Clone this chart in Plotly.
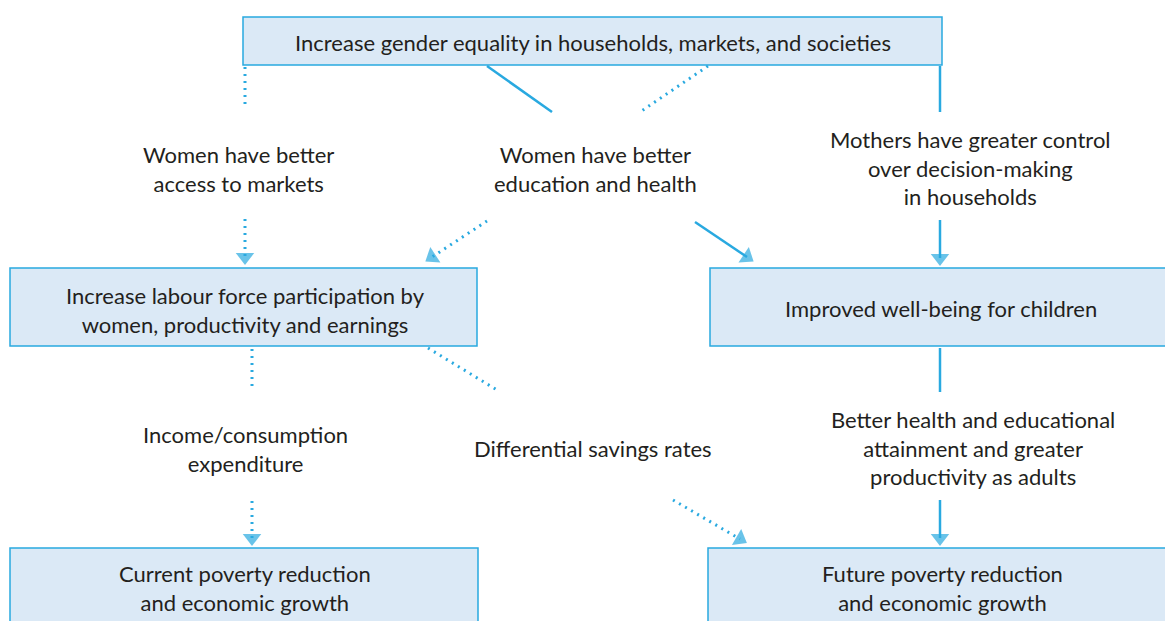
import plotly.graph_objects as go

W, H = 1165, 621

# ---- content ----
box_ids = ["top", "labour", "children", "current", "future"]
box_texts = [
    "Increase gender equality in households, markets, and societies",
    "Increase labour force participation by<br>women, productivity and earnings",
    "Improved well-being for children",
    "Current poverty reduction<br>and economic growth",
    "Future poverty reduction<br>and economic growth",
]
label_texts = [
    "Women have better<br>access to markets",
    "Women have better<br>education and health",
    "Mothers have greater control<br>over decision-making<br>in households",
    "Income/consumption<br>expenditure",
    "Differential savings rates",
    "Better health and educational<br>attainment and greater<br>productivity as adults",
]
# connector styles: 'dot' or 'solid'
seg_styles = ["dot", "solid", "dot", "solid", "dot", "dot", "solid"]
arrow_styles = ["dot", "dot", "solid", "solid", "dot", "dot", "solid"]

# ---- layout (pixel positions) ----
box_pos = [  # x0, y0, x1, y1
    (243, 17, 942, 65),
    (10, 268, 477, 346),
    (710, 268, 1166, 346),
    (10, 548, 478, 640),
    (708, 548, 1166, 640),
]
box_text_pos = [(593, 42), (245, 310), (941, 308), (245, 588), (942, 588)]
label_pos = [(238, 169), (595, 169), (970, 168), (245, 449), (593, 448), (973, 448)]
seg_pos = [  # plain connector segments (no head)
    ((245, 67), (245, 108)),
    ((487, 66), (552, 112)),
    ((708, 66), (640, 112)),
    ((940, 66), (940, 112)),
    ((252, 349), (252, 390)),
    ((428, 348), (497, 390)),
    ((940, 348), (940, 392)),
]
arrow_pos = [  # start, head centre
    ((245, 219), (245, 257)),
    ((487, 221), (432, 257)),
    ((695, 222), (747, 257)),
    ((940, 220), (940, 258)),
    ((252, 501), (252, 538)),
    ((673, 500), (740, 539)),
    ((940, 500), (940, 538)),
]

BLUE = "#29a9e0"
FILL = "#dbe9f6"
TXT = "#231f20"
FONT = "Lato"
FS = 22
DOT = "2px,5px"

fig = go.Figure()

shapes = []
for (x0, y0, x1, y1) in box_pos:
    shapes.append(dict(type="rect", x0=x0, y0=y0, x1=x1, y1=y1,
                       line=dict(color=BLUE, width=1.5), fillcolor=FILL, layer="below"))

for (p0, p1), st in zip(seg_pos, seg_styles):
    fig.add_trace(go.Scatter(x=[p0[0], p1[0]], y=[p0[1], p1[1]], mode="lines",
                             line=dict(color=BLUE, width=3 if st == "dot" else 2.5,
                                       dash=DOT if st == "dot" else "solid"),
                             hoverinfo="skip", showlegend=False))

for (p0, p1), st in zip(arrow_pos, arrow_styles):
    fig.add_trace(go.Scatter(x=[p0[0], p1[0]], y=[p0[1], p1[1]], mode="lines",
                             line=dict(color=BLUE, width=3 if st == "dot" else 2.5,
                                       dash=DOT if st == "dot" else "solid"),
                             hoverinfo="skip", showlegend=False))
    fig.add_trace(go.Scatter(x=[p0[0], p1[0]], y=[p0[1], p1[1]], mode="markers",
                             marker=dict(symbol="triangle-up", size=[0, 16], color=BLUE,
                                         angleref="previous", line=dict(width=0)),
                             hoverinfo="skip", showlegend=False))

annotations = []
for t, (x, y) in zip(box_texts, box_text_pos):
    annotations.append(dict(x=x, y=y, text=t, showarrow=False,
                            font=dict(family=FONT, size=FS, color=TXT)))
for t, (x, y) in zip(label_texts, label_pos):
    annotations.append(dict(x=x, y=y, text=t, showarrow=False,
                            font=dict(family=FONT, size=FS, color=TXT)))

fig.update_layout(
    width=W, height=H,
    margin=dict(l=0, r=0, t=0, b=0),
    paper_bgcolor="white", plot_bgcolor="white",
    shapes=shapes, annotations=annotations,
    xaxis=dict(range=[0, W], visible=False, fixedrange=True),
    yaxis=dict(range=[H, 0], visible=False, fixedrange=True),
)

fig.write_html("out.html", config={"displayModeBar": False},
               post_script="document.body.style.margin='0px';document.body.style.overflow='hidden';")
